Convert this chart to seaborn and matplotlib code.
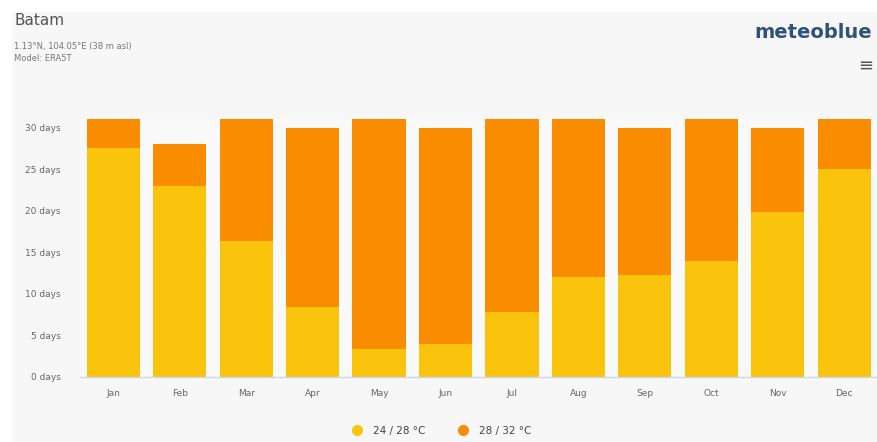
import matplotlib
matplotlib.use("Agg")
import matplotlib.pyplot as plt
from matplotlib.patches import Rectangle
from matplotlib.lines import Line2D
import seaborn as sns
import pandas as pd

months = ["Jan", "Feb", "Mar", "Apr", "May", "Jun", "Jul", "Aug", "Sep", "Oct", "Nov", "Dec"]
days_24_28 = [27.5, 23.0, 16.3, 8.4, 3.3, 3.9, 7.8, 12.0, 12.3, 13.9, 19.8, 25.0]
days_28_32 = [3.5, 5.0, 14.7, 21.6, 27.7, 26.1, 23.2, 19.0, 17.7, 17.1, 10.2, 6.0]
ytick_vals = [0, 5, 10, 15, 20, 25, 30]
ytick_labels = ["0 days", "5 days", "10 days", "15 days", "20 days", "25 days", "30 days"]
series_labels = ["24 / 28 °C", "28 / 32 °C"]

YELLOW = "#fac40c"
ORANGE = "#fa8c00"

sns.set_theme(style="white")
plt.rcParams["font.family"] = ["DejaVu Sans"]

df = pd.DataFrame({"month": months, "low": days_24_28, "high": days_28_32})
df["total"] = df["low"] + df["high"]

W, H = 878, 442
fig = plt.figure(figsize=(W / 100, H / 100), dpi=100)
fig.patch.set_facecolor("white")
fig.patches.append(Rectangle((12 / W, 0), 1 - 12 / W, 1 - 12 / H, transform=fig.transFigure,
                             facecolor="#f7f7f7", edgecolor="none", zorder=-10))

ax = fig.add_axes([80 / W, (H - 376.7) / H, (877.5 - 80) / W, 257.4 / H])
ax.set_facecolor("#f9f9fa")

sns.barplot(data=df, x="month", y="total", color=ORANGE, width=0.8, saturation=1, ax=ax)
sns.barplot(data=df, x="month", y="low", color=YELLOW, width=0.8, saturation=1, ax=ax)
for p in ax.patches:
    p.set_edgecolor("none")

ax.set_ylim(0, 31)
ax.set_xlim(-0.5, 11.5)
ax.set_yticks(ytick_vals)
ax.set_yticklabels(ytick_labels)
ax.set_xlabel("")
ax.set_ylabel("")
ax.tick_params(axis="y", labelsize=6.5, colors="#666666", length=0, pad=14)
ax.tick_params(axis="x", labelsize=6.5, colors="#666666", length=0, pad=9)
for s in ["top", "right", "left"]:
    ax.spines[s].set_visible(False)
ax.spines["bottom"].set_color("#ccd6eb")
ax.spines["bottom"].set_linewidth(1)

# Titles
fig.text(14 / W, 1 - 25 / H, "Batam", fontsize=11, color="#555555", ha="left", va="baseline")
fig.text(14 / W, 1 - 49 / H, "1.13°N, 104.05°E (38 m asl)", fontsize=6, color="#777777",
         ha="left", va="baseline")
fig.text(14 / W, 1 - 61 / H, "Model: ERA5T", fontsize=6, color="#777777", ha="left", va="baseline")
fig.text(872 / W, 1 - 38 / H, "meteoblue", fontsize=14, fontweight="bold", color="#2d527c",
         ha="right", va="baseline")
fig.text(866 / W, 1 - 66 / H, "≡", fontsize=13, color="#555555", ha="center", va="center")

# Legend
handles = [Line2D([0], [0], marker="o", linestyle="none", markersize=8, markerfacecolor=c,
                  markeredgecolor="none") for c in (YELLOW, ORANGE)]
leg = fig.legend(handles, series_labels, loc="center", bbox_to_anchor=(0.5, 1 - 431 / H),
                 ncol=2, frameon=False, fontsize=7.5, handletextpad=0.5, columnspacing=2.6,
                 labelcolor="#444444")

fig.savefig("out.png", dpi=100, facecolor=fig.get_facecolor())
